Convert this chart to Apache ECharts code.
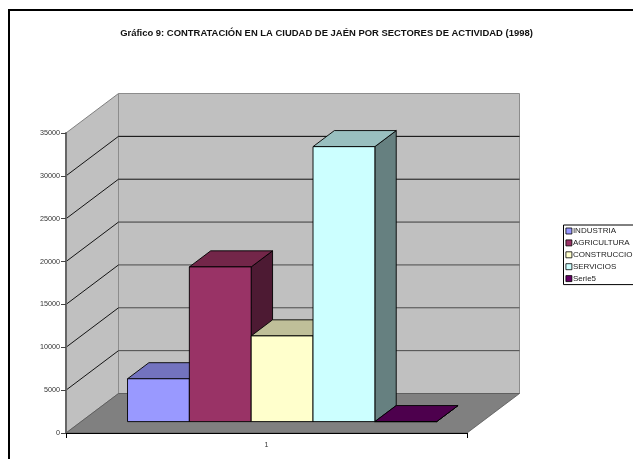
<!DOCTYPE html>
<html><head><meta charset="utf-8">
<style>html,body{margin:0;padding:0;background:#fff;overflow:hidden}#c{width:633px;height:459px}</style>
<script src="https://cdn.jsdelivr.net/npm/echarts@6/dist/echarts.min.js"></script>
</head><body><div id="c"></div>
<script>
const titleText = 'Gráfico 9: CONTRATACIÓN EN LA CIUDAD DE JAÉN POR SECTORES DE ACTIVIDAD (1998)';
const categories = ['1'];
const sectorNames = ['INDUSTRIA', 'AGRICULTURA', 'CONSTRUCCION', 'SERVICIOS', 'Serie5'];
const sectorValues = [5000, 18050, 10000, 32080, 0];
const frontColors = ['#9999ff', '#993366', '#ffffcc', '#ccffff', '#660066'];
const topColors = ['#7373bf', '#732649', '#bfbf99', '#99bfbf', '#4d004d'];
const sideColors = ['#4d4d80', '#4d1a33', '#808066', '#668080', '#330033'];
const yTicks = [0, 5000, 10000, 15000, 20000, 25000, 30000, 35000];
const gridColors = ['', '#4a4a4a', '#4a4a4a', '#4a4a4a', '#3a3a3a', '#111', '#000', ''];

const depth = [52.5, -39.5];
const barDepthStart = 0.288, barDepthEnd = 0.695;
const barLeft = 0.1157, barWidth = 0.1542;

const shift = (p, f) => [p[0] + depth[0] * f, p[1] + depth[1] * f];
const poly = (points, fill, stroke, lw) => ({
  type: 'polygon', shape: { points },
  style: { fill, stroke: stroke || 'none', lineWidth: lw || 0, lineJoin: 'round' }
});
const line = (a, b, stroke, lw) => ({
  type: 'line', shape: { x1: a[0], y1: a[1], x2: b[0], y2: b[1] },
  style: { stroke, lineWidth: lw }
});

function renderRoom(params, api) {
  const c = api.coord([0, 0]);
  const w = api.size([1, 0])[0];
  const x0 = c[0] - w / 2, x1 = c[0] + w / 2;
  const yTop = api.coord([0, yTicks[yTicks.length - 1]])[1];
  const y0 = c[1];
  const kids = [];
  kids.push(poly([[x0, y0], [x0, yTop], shift([x0, yTop], 1), shift([x0, y0], 1)], '#c0c0c0', '#808080', 1));
  kids.push(poly([shift([x0, y0], 1), shift([x0, yTop], 1), shift([x1, yTop], 1), shift([x1, y0], 1)], '#c0c0c0', '#8c8c8c', 1));
  kids.push(poly([[x0, y0], shift([x0, y0], 1), shift([x1, y0], 1), [x1, y0]], '#808080', '#555', 0.8));
  yTicks.forEach((t, i) => {
    if (i === 0 || i === yTicks.length - 1) return;
    const y = api.coord([0, t])[1];
    kids.push(line([x0, y], shift([x0, y], 1), '#000', 0.9));
    kids.push(line(shift([x0, y], 1), shift([x1, y], 1), gridColors[i], 1));
  });
  return { type: 'group', children: kids };
}

function renderBar(i) {
  return function (params, api) {
    const base = api.coord([0, 0]);
    const top = api.coord([0, api.value(1)]);
    const w = api.size([1, 0])[0];
    const xa = base[0] - w / 2 + w * (barLeft + barWidth * i);
    const xb = xa + w * barWidth;
    const fb = shift([xa, base[1]], barDepthStart), fr = shift([xb, base[1]], barDepthStart);
    const tb = shift([xa, top[1]], barDepthStart), tr = shift([xb, top[1]], barDepthStart);
    const d = barDepthEnd - barDepthStart;
    const k = '#000';
    return { type: 'group', children: [
      poly([fr, tr, shift(tr, d), shift(fr, d)], sideColors[i], k, 0.9),
      poly([tb, tr, shift(tr, d), shift(tb, d)], topColors[i], k, 0.9),
      poly([fb, tb, tr, fr], frontColors[i], k, 0.9)
    ] };
  };
}

const chart = echarts.init(document.getElementById('c'), null, { renderer: 'canvas' });
chart.setOption({
  animation: false,
  backgroundColor: '#fff',
  textStyle: { fontFamily: 'Liberation Sans' },
  title: {
    text: titleText, left: 321.5, top: 24, textAlign: 'center',
    textStyle: { fontFamily: 'Liberation Sans', fontSize: 9.45, fontWeight: 'bold', color: '#111' }
  },
  graphic: [{
    type: 'rect', silent: true, z: -1,
    shape: { x: 9, y: 10, width: 700, height: 520 },
    style: { fill: 'none', stroke: '#000', lineWidth: 2 }
  }],
  grid: { left: 66, top: 133, width: 401, height: 300 },
  legend: {
    orient: 'vertical', left: 563.5, top: 225, data: sectorNames,
    backgroundColor: '#fff', borderColor: '#000', borderWidth: 1,
    padding: [2, 8, 2, 2], itemWidth: 6, itemHeight: 6, itemGap: 3.9, icon: 'rect',
    selectedMode: false,
    itemStyle: { borderColor: '#000', borderWidth: 0.8 },
    textStyle: { fontFamily: 'Liberation Sans', fontSize: 8, color: '#222', padding: [0, 0, 0, -4] }
  },
  xAxis: {
    type: 'category', data: categories, z: 6,
    axisLine: { lineStyle: { color: '#000', width: 1 } },
    axisTick: { show: true, alignWithLabel: false, length: 5, lineStyle: { color: '#000' } },
    axisLabel: { fontSize: 7, color: '#333', margin: 9 }
  },
  yAxis: {
    type: 'value', min: 0, max: 35000, interval: 5000, z: 6,
    axisLine: { show: true, lineStyle: { color: '#666', width: 2 } },
    axisTick: { show: true, length: 5, lineStyle: { color: '#444' } },
    splitLine: { show: false },
    axisLabel: { fontSize: 7.2, color: '#333', margin: 6, formatter: v => String(v) }
  },
  series: [
    { type: 'custom', name: '_room', data: [[0, 0]], encode: { x: 0, y: 1 }, renderItem: renderRoom, silent: true, z: 1 }
  ].concat(sectorNames.map((name, i) => ({
    type: 'custom', name, data: [[0, sectorValues[i]]], encode: { x: 0, y: 1 },
    renderItem: renderBar(i), itemStyle: { color: frontColors[i] }, silent: true, z: 2 + i
  })))
});
</script></body></html>
